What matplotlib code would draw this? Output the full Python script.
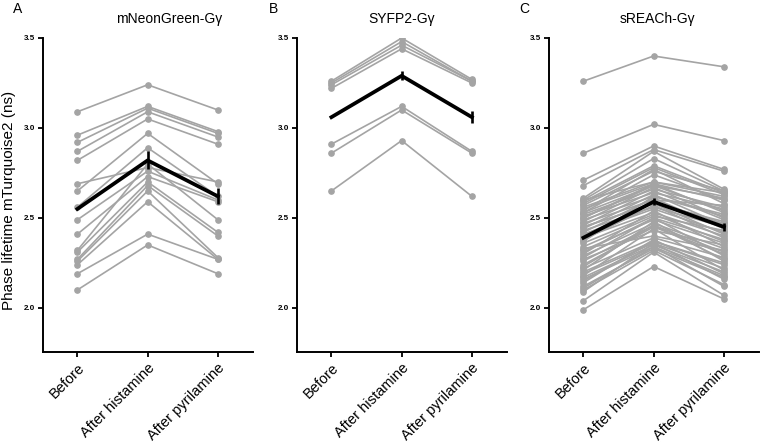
import matplotlib
matplotlib.use("Agg")
import matplotlib.pyplot as plt
import numpy as np

plt.rcParams['font.family'] = ['Liberation Sans', 'DejaVu Sans']

conditions = ["Before", "After histamine", "After pyrilamine"]

# Panel A: mNeonGreen-Gγ (Before, After histamine, After pyrilamine)
a_before = [3.09, 2.96, 2.92, 2.87, 2.82, 2.69, 2.65, 2.56, 2.49, 2.41, 2.32, 2.31, 2.27, 2.26, 2.24, 2.19, 2.10]
a_hist   = [3.24, 3.12, 3.11, 3.09, 3.05, 2.78, 2.97, 2.89, 2.76, 2.73, 2.80, 2.70, 2.68, 2.65, 2.59, 2.41, 2.35]
a_pyr    = [3.10, 2.98, 2.97, 2.95, 2.91, 2.70, 2.69, 2.62, 2.60, 2.59, 2.49, 2.42, 2.40, 2.28, 2.27, 2.27, 2.19]
a_mean = [2.55, 2.82, 2.62]
a_err  = [0.0, 0.05, 0.045]

# Panel B: SYFP2-Gγ
b_before = [3.26, 3.25, 3.24, 3.22, 2.91, 2.86, 2.65]
b_hist   = [3.50, 3.48, 3.46, 3.44, 3.12, 3.10, 2.93]
b_pyr    = [3.27, 3.26, 3.26, 3.25, 2.87, 2.86, 2.62]
b_mean = [3.06, 3.29, 3.06]
b_err  = [0.0, 0.025, 0.033]

# Panel C: sREACh-Gγ
c_before = [3.26, 2.86, 2.71, 2.68, 2.61, 2.60, 2.59, 2.58, 2.56, 2.55, 2.54, 2.53, 2.52, 2.51,
            2.50, 2.49, 2.48, 2.47, 2.46, 2.45, 2.44, 2.43, 2.42, 2.41, 2.40, 2.39, 2.38, 2.36,
            2.34, 2.32, 2.30, 2.29, 2.28, 2.26, 2.24, 2.22, 2.21, 2.20, 2.19, 2.18, 2.17, 2.16,
            2.14, 2.12, 2.10, 2.09, 2.04, 1.99, 2.57, 2.53, 2.27, 2.31,
            2.60, 2.50, 2.45, 2.37, 2.33, 2.23, 2.15, 2.11]
c_hist   = [3.40, 3.02, 2.90, 2.88, 2.87, 2.83, 2.79, 2.78, 2.70, 2.69, 2.77, 2.68, 2.66, 2.64,
            2.68, 2.62, 2.67, 2.60, 2.65, 2.58, 2.63, 2.56, 2.61, 2.55, 2.59, 2.53, 2.57, 2.52,
            2.51, 2.49, 2.54, 2.47, 2.50, 2.46, 2.45, 2.39, 2.48, 2.37, 2.36, 2.44, 2.35, 2.34,
            2.38, 2.33, 2.32, 2.36, 2.31, 2.23, 2.76, 2.74, 2.43, 2.50,
            2.70, 2.69, 2.58, 2.62, 2.40, 2.46, 2.37, 2.34]
c_pyr    = [3.34, 2.93, 2.77, 2.76, 2.66, 2.65, 2.64, 2.63, 2.62, 2.60, 2.58, 2.61, 2.56, 2.55,
            2.54, 2.52, 2.50, 2.57, 2.49, 2.48, 2.46, 2.45, 2.44, 2.42, 2.47, 2.40, 2.39, 2.37,
            2.43, 2.36, 2.34, 2.33, 2.38, 2.31, 2.30, 2.28, 2.26, 2.25, 2.22, 2.21, 2.20, 2.18,
            2.19, 2.17, 2.13, 2.16, 2.07, 2.05, 2.65, 2.60, 2.35, 2.29,
            2.64, 2.53, 2.41, 2.51, 2.32, 2.27, 2.24, 2.12]
c_mean = [2.39, 2.59, 2.45]
c_err  = [0.0, 0.02, 0.023]

titles = ["mNeonGreen-Gγ", "SYFP2-Gγ", "sREACh-Gγ"]
letters = ["A", "B", "C"]
yticks = [2.0, 2.5, 3.0, 3.5]

panels = [
    (a_before, a_hist, a_pyr, a_mean, a_err),
    (b_before, b_hist, b_pyr, b_mean, b_err),
    (c_before, c_hist, c_pyr, c_mean, c_err),
]

W, H = 760, 446
fig = plt.figure(figsize=(W / 100, H / 100), dpi=100)

axes_left_px = [43, 297, 549]
axes_w_px = 210
top_px, bottom_px = 38, 352
title_x_px = [169, 402, 657]
letter_x_px = [18, 274, 524]

gray = "#a4a4a4"
x = np.arange(len(conditions))

for i, (bef, hist, pyr, mean, err) in enumerate(panels):
    ax = fig.add_axes([axes_left_px[i] / W, (H - bottom_px) / H,
                       axes_w_px / W, (bottom_px - top_px) / H])
    data = np.column_stack([bef, hist, pyr])
    for row in data:
        ax.plot(x, row, color=gray, lw=1.2, marker='o', ms=3.8,
                markerfacecolor=gray, markeredgecolor=gray, zorder=2)
    ax.errorbar(x, mean, yerr=err, color='black', lw=2.7, elinewidth=1.9,
                capsize=0, zorder=5)
    ax.set_xlim(-0.49, 2.5)
    ax.set_ylim(1.755, 3.5)
    ax.set_yticks(yticks)
    ax.set_yticklabels([f"{v:.1f}" for v in yticks], fontsize=5.8, fontweight='bold')
    ax.set_xticks(x)
    ax.set_xticklabels(conditions, rotation=45, ha='right', rotation_mode='anchor',
                       fontsize=10.5)
    for s in ['top', 'right']:
        ax.spines[s].set_visible(False)
    for s in ['left', 'bottom']:
        ax.spines[s].set_linewidth(1.4)
    ax.tick_params(axis='both', direction='out', length=3.6, width=1.3, pad=2)
    ax.tick_params(axis='x', pad=3)
    fig.text(title_x_px[i] / W, 1 - 19 / H, titles[i], ha='center', va='center', fontsize=10)
    fig.text(letter_x_px[i] / W, 1 - 9 / H, letters[i], ha='center', va='center', fontsize=10)

fig.text(9 / W, 1 - 200 / H, "Phase lifetime mTurquoise2 (ns)", rotation=90,
         ha='center', va='center', fontsize=11)

fig.savefig("out.png", dpi=100)
